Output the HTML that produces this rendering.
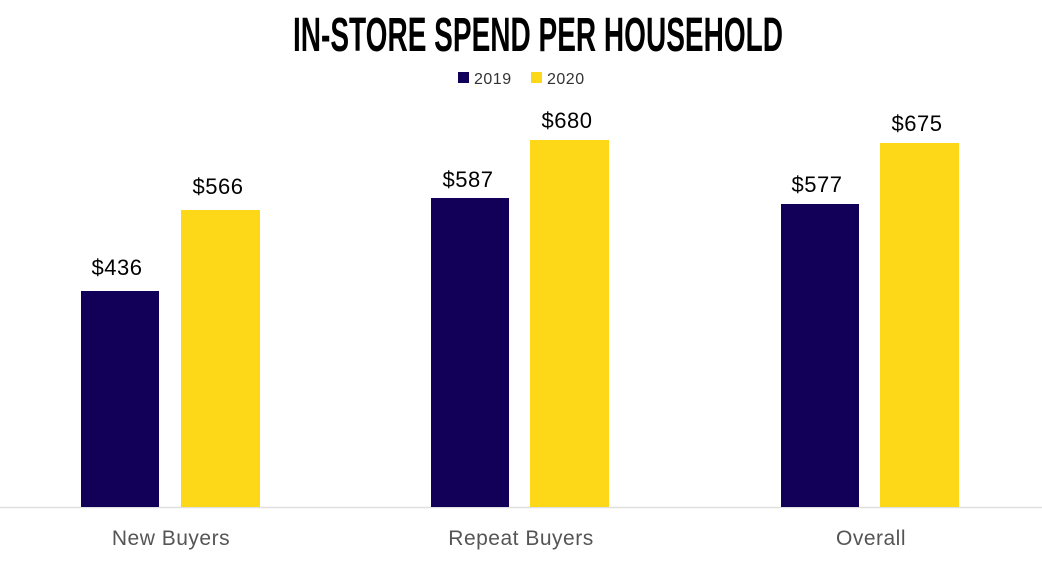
<!DOCTYPE html>
<html><head><meta charset="utf-8"><style>
html,body{margin:0;padding:0;background:#fff;}
svg{display:block;}
</style></head><body>
<svg width="1042" height="573" viewBox="0 0 1042 573" xmlns="http://www.w3.org/2000/svg">
<rect width="1042" height="573" fill="#fff"/>
<text x="538" y="51" text-anchor="middle" font-family="'Liberation Sans Narrow','Liberation Sans',sans-serif" font-weight="bold" font-size="48" textLength="490" lengthAdjust="spacingAndGlyphs" fill="#000">IN-STORE SPEND PER HOUSEHOLD</text>
<rect x="458" y="72" width="11" height="11" fill="#120058"/>
<text x="474" y="84" font-family="'Liberation Sans',sans-serif" font-size="16" letter-spacing="0.5" fill="#333">2019</text>
<rect x="531" y="72" width="11" height="11" fill="#FDD819"/>
<text x="547" y="84" font-family="'Liberation Sans',sans-serif" font-size="16" letter-spacing="0.5" fill="#333">2020</text>
<line x1="0" y1="507.5" x2="1042" y2="507.5" stroke="#e0e0e0" stroke-width="1.5"/>
<g fill="#120058">
<rect x="81" y="291" width="78" height="216"/>
<rect x="431" y="198" width="78" height="309"/>
<rect x="781" y="204" width="78" height="303"/>
</g>
<g fill="#FDD819">
<rect x="181" y="210" width="79" height="297"/>
<rect x="530" y="140" width="79" height="367"/>
<rect x="880" y="143" width="79" height="364"/>
</g>
<g font-family="'Liberation Sans',sans-serif" font-size="22" letter-spacing="0.5" fill="#000" text-anchor="middle">
<text x="117" y="275">$436</text>
<text x="218" y="194">$566</text>
<text x="468" y="187">$587</text>
<text x="567" y="128">$680</text>
<text x="817" y="192">$577</text>
<text x="917" y="131">$675</text>
</g>
<g font-family="'Liberation Sans',sans-serif" font-size="21" letter-spacing="0.5" fill="#555" text-anchor="middle">
<text x="171" y="545">New Buyers</text>
<text x="521" y="545">Repeat Buyers</text>
<text x="871" y="545">Overall</text>
</g>
</svg>
</body></html>
